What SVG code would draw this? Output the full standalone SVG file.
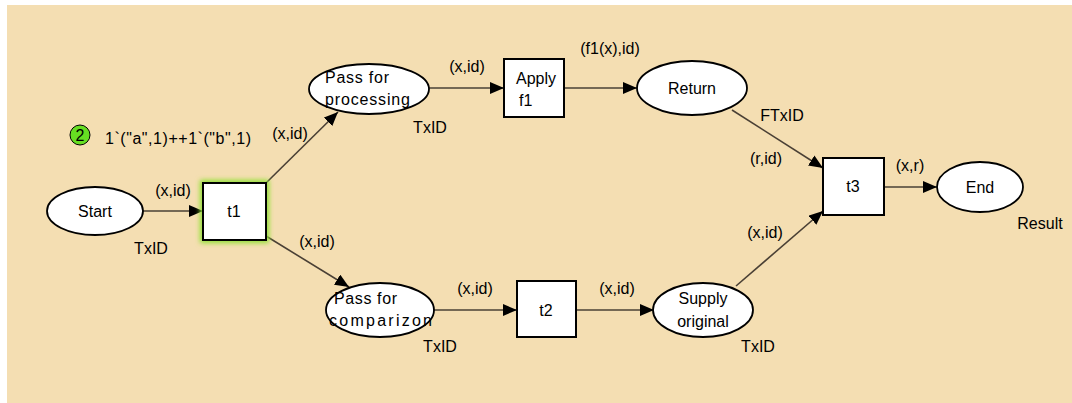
<svg xmlns="http://www.w3.org/2000/svg" width="1072" height="403" viewBox="0 0 1072 403">
<defs>
<style>
.pl{fill:#fff;stroke:#000;stroke-width:1.8}
.tr{fill:#fff;stroke:#000;stroke-width:2}
.arc{stroke:#4a4035;stroke-width:1.6;fill:none;marker-end:url(#ah)}
text{font-family:"Liberation Sans",Arial,sans-serif;font-size:16px;fill:#000}
.c{text-anchor:middle}
</style>
<marker id="ah" viewBox="0 0 14 12" refX="14" refY="6" markerWidth="14" markerHeight="12" markerUnits="userSpaceOnUse" orient="auto">
<path d="M0,0 L14,6 L0,12 Z" fill="#000"/>
</marker>
<filter id="glow" x="-30%" y="-30%" width="160%" height="160%">
<feGaussianBlur stdDeviation="2.5"/>
</filter>
</defs>
<rect x="0" y="0" width="1072" height="403" fill="#fff"/>
<rect x="7" y="5" width="1065" height="398" fill="#F4DEB2"/>

<g id="connectors">
<line class="arc" x1="143" y1="211" x2="203" y2="211"/>
<text x="173" y="196" class="c">(x,id)</text>
<line class="arc" x1="266" y1="183" x2="338" y2="112"/>
<text x="290" y="139" class="c">(x,id)</text>
<line class="arc" x1="266" y1="236" x2="349" y2="287"/>
<text x="317" y="247" class="c">(x,id)</text>
<line class="arc" x1="429" y1="88" x2="504" y2="88"/>
<text x="467" y="72" class="c">(x,id)</text>
<line class="arc" x1="564" y1="88" x2="637" y2="88"/>
<text x="610" y="54" class="c">(f1(x),id)</text>
<line class="arc" x1="732" y1="110" x2="823" y2="168"/>
<text x="782" y="121" class="c">FTxID</text>
<text x="766" y="164" class="c">(r,id)</text>
<line class="arc" x1="433" y1="310" x2="517" y2="310"/>
<text x="475" y="294" class="c">(x,id)</text>
<line class="arc" x1="576" y1="310" x2="654" y2="310"/>
<text x="617" y="294" class="c">(x,id)</text>
<line class="arc" x1="736" y1="286" x2="823" y2="211"/>
<text x="765" y="238" class="c">(x,id)</text>
<line class="arc" x1="884" y1="187" x2="937" y2="187"/>
<text x="910" y="171" class="c">(x,r)</text>
</g>

<g id="token">
<circle cx="80" cy="135" r="10" fill="#66DD22" stroke="#000" stroke-width="1"/>
<text x="80" y="141" class="c">2</text>
<text x="105" y="144" textLength="146">1`("a",1)++1`("b",1)</text>
</g>

<g id="Start">
<ellipse class="pl" cx="95" cy="211" rx="48" ry="24"/>
<text x="95" y="217" class="c">Start</text>
<text x="151" y="254" class="c">TxID</text>
</g>

<g id="t1">
<rect x="200" y="180" width="69" height="63" fill="#8fe030" filter="url(#glow)"/>
<rect class="tr" x="203" y="183" width="63" height="57"/>
<text x="234" y="217" class="c">t1</text>
</g>

<g id="PassForProcessing">
<ellipse class="pl" cx="369" cy="89" rx="60" ry="25"/>
<text x="325" y="83" textLength="64">Pass for</text>
<text x="325" y="105" textLength="85">processing</text>
<text x="430" y="133" class="c">TxID</text>
</g>

<g id="ApplyF1">
<rect class="tr" x="504" y="59" width="60" height="58"/>
<text x="516" y="84">Apply</text>
<text x="519" y="106">f1</text>
</g>

<g id="Return">
<ellipse class="pl" cx="692" cy="88" rx="55" ry="27"/>
<text x="692" y="94" class="c">Return</text>
</g>

<g id="PassForComparizon">
<ellipse class="pl" cx="380" cy="310" rx="54" ry="27"/>
<text x="334" y="304" textLength="63">Pass for</text>
<text x="329" y="326" textLength="103">comparizon</text>
<text x="440" y="352" class="c">TxID</text>
</g>

<g id="t2">
<rect class="tr" x="517" y="281" width="59" height="56"/>
<text x="546" y="316" class="c">t2</text>
</g>

<g id="SupplyOriginal">
<ellipse class="pl" cx="703" cy="310" rx="50" ry="27"/>
<text x="703" y="304" class="c">Supply</text>
<text x="703" y="327" class="c">original</text>
<text x="758" y="352" class="c">TxID</text>
</g>

<g id="t3">
<rect class="tr" x="823" y="158" width="61" height="57"/>
<text x="853" y="192" class="c">t3</text>
</g>

<g id="End">
<ellipse class="pl" cx="980" cy="187" rx="43" ry="25"/>
<text x="980" y="193" class="c">End</text>
<text x="1040" y="229" class="c">Result</text>
</g>
</svg>
